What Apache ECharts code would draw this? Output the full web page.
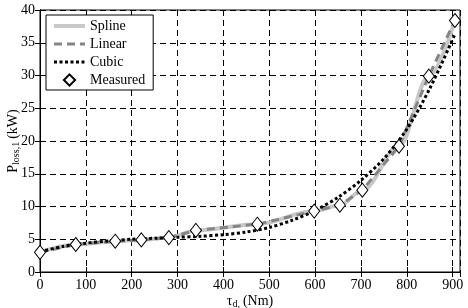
<!DOCTYPE html>
<html>
<head>
<meta charset="utf-8">
<script src="https://cdn.jsdelivr.net/npm/echarts@6/dist/echarts.min.js"></script>
<style>
html,body{margin:0;padding:0;background:#fff;}
#chart{width:468px;height:308px;}
</style>
</head>
<body>
<div id="chart"></div>
<script>
// measured loss points (torque Nm, loss kW)
var measuredX = [0, 78, 164, 221, 281, 340, 474, 598, 654, 703, 783, 848, 905];
var measuredY = [3.0, 4.2, 4.7, 4.9, 5.25, 6.35, 7.3, 9.3, 10.2, 12.5, 19.2, 29.9, 38.4];

// cubic fit
var cubicX = [0, 50, 100, 150, 200, 250, 300, 350, 400, 450, 500, 550, 600, 650, 700, 750, 800, 850, 905];
var cubicY = [3.1, 3.9, 4.4, 4.75, 5.0, 5.15, 5.3, 5.45, 5.7, 6.1, 6.8, 7.9, 9.4, 11.4, 14.0, 17.3, 21.8, 28.0, 36.3];

var xTicks = [0, 100, 200, 300, 400, 500, 600, 700, 800, 900];
var yTicks = [0, 5, 10, 15, 20, 25, 30, 35, 40];

function pairs(xs, ys){
	var out = [];
	for(var i=0;i<xs.length;i++){ out.push([xs[i], ys[i]]); }
	return out;
}

var font = 'Liberation Serif';
var chart = echarts.init(document.getElementById('chart'));

var gridLine = {show:true, lineStyle:{color:'#000', type:[6,4], width:1}};
var noSymbol = {opacity:0};

var option = {
	animation:false,
	backgroundColor:'#fff',
	textStyle:{fontFamily:font},
	grid:{left:40, right:8, top:10, bottom:36, show:true, borderColor:'#000', borderWidth:1, outerBoundsMode:'none'},
	legend:{
		orient:'vertical',
		left:46, top:15,
		backgroundColor:'#fff',
		borderColor:'#000', borderWidth:1,
		padding:[4,8,3,6],
		itemGap:4,
		itemWidth:31, itemHeight:14,
		textStyle:{fontFamily:font, fontSize:14, color:'#000'},
		data:[
			{name:'Spline', itemStyle:noSymbol, lineStyle:{width:4}},
			{name:'Linear', itemStyle:noSymbol, lineStyle:{width:3}},
			{name:'Cubic', itemStyle:noSymbol, lineStyle:{width:3}},
			{name:'Measured', lineStyle:{opacity:0}}
		]
	},
	xAxis:[{
		type:'value', min:0, max:916, interval:100,
		axisLine:{show:true, lineStyle:{color:'#000'}},
		axisTick:{show:true, inside:true, length:5, lineStyle:{color:'#000'}},
		axisLabel:{color:'#000', fontSize:14, fontFamily:font, margin:6, showMaxLabel:false,
			formatter:function(v){ return xTicks.indexOf(v) >= 0 ? String(v) : ''; }},
		splitLine:gridLine,
		name:'{t|τ}{s|d,} {t|(Nm)}', nameLocation:'middle', nameGap:21, nameMoveOverlap:false,
		nameTextStyle:{rich:{
			t:{fontFamily:font, fontSize:14, color:'#000'},
			s:{fontFamily:font, fontSize:10, color:'#000', verticalAlign:'bottom', padding:[6,0,0,0]}
		}}
	},{
		type:'value', min:0, max:916, interval:100, position:'top',
		axisLine:{show:true, lineStyle:{color:'#000'}},
		axisTick:{show:true, inside:true, length:5, lineStyle:{color:'#000'}},
		axisLabel:{show:false}, splitLine:{show:false}
	}],
	yAxis:[{
		type:'value', min:0, max:40, interval:5,
		axisLine:{show:true, lineStyle:{color:'#000'}},
		axisTick:{show:true, inside:true, length:5, lineStyle:{color:'#000'}},
		axisLabel:{color:'#000', fontSize:14, fontFamily:font, margin:5,
			formatter:function(v){ return yTicks.indexOf(v) >= 0 ? String(v) : ''; }},
		splitLine:gridLine,
		name:'{t|P}{s|loss,1} {t|(kW)}', nameLocation:'middle', nameGap:19, nameRotate:90, nameMoveOverlap:false,
		nameTextStyle:{rich:{
			t:{fontFamily:font, fontSize:14, color:'#000'},
			s:{fontFamily:font, fontSize:10, color:'#000', verticalAlign:'bottom', padding:[6,0,0,0]}
		}}
	},{
		type:'value', min:0, max:40, interval:5, position:'right',
		axisLine:{show:true, lineStyle:{color:'#000'}},
		axisTick:{show:true, inside:true, length:5, lineStyle:{color:'#000'}},
		axisLabel:{show:false}, splitLine:{show:false}
	}],
	series:[
		{
			name:'Spline', type:'line', data:pairs(measuredX, measuredY),
			smooth:0.35, smoothMonotone:'x', symbol:'none', z:2,
			color:'#c8c8c8',
			lineStyle:{color:'#c8c8c8', width:4}
		},
		{
			name:'Linear', type:'line', data:pairs(measuredX, measuredY),
			symbol:'none', z:3,
			color:'#858585',
			lineStyle:{color:'#858585', width:3, type:[8,5]}
		},
		{
			name:'Cubic', type:'line', data:pairs(cubicX, cubicY),
			smooth:0.3, symbol:'none', z:4,
			color:'#000',
			lineStyle:{color:'#000', width:3, type:[3,2.5], cap:'butt'}
		},
		{
			name:'Measured', type:'line', data:pairs(measuredX, measuredY),
			symbol:'diamond', symbolSize:[11,14], showSymbol:true, z:5,
			color:'#fff',
			lineStyle:{width:0, opacity:0},
			itemStyle:{color:'#fff', borderColor:'#000', borderWidth:1}
		}
	]
};

chart.setOption(option);
</script>
</body>
</html>
